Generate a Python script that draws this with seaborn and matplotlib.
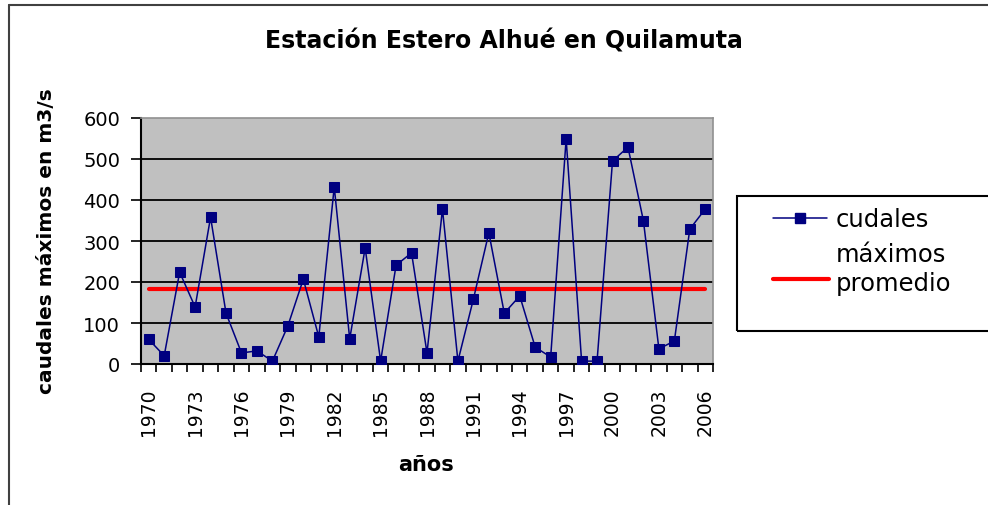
import numpy as np
import pandas as pd
import matplotlib.pyplot as plt
import seaborn as sns
from matplotlib.lines import Line2D
from matplotlib.patches import Rectangle

## Data
years = list(range(1970, 2007))
caudales = [60, 20, 224, 139, 358, 124, 27, 32, 7, 93,
            207, 66, 432, 61, 283, 7, 241, 271, 27, 378,
            7, 158, 320, 124, 166, 41, 17, 549, 7, 7,
            495, 529, 349, 37, 56, 329, 378]
promedio = [183] * len(years)
y_ticks = [0, 100, 200, 300, 400, 500, 600]

df = pd.DataFrame({'pos': range(len(years)), 'anio': years,
                   'caudales': caudales, 'promedio': promedio})

sns.set_style("ticks")
plt.rcParams['font.family'] = ['DejaVu Sans']
plt.rcParams['text.color'] = 'black'
plt.rcParams['xtick.color'] = 'black'
plt.rcParams['ytick.color'] = 'black'

W, H = 988, 506
fig = plt.figure(figsize=(W / 100, H / 100), dpi=100)
ax = fig.add_axes([141 / W, 1 - 365 / H, 572 / W, 246 / H])
ax.set_facecolor('#C0C0C0')

# gridlines
for v in y_ticks[1:-1]:
    ax.axhline(v, color='black', lw=1.3, zorder=1)

sns.lineplot(data=df, x='pos', y='promedio', ax=ax, color='#FF0000', lw=3, zorder=2)
sns.lineplot(data=df, x='pos', y='caudales', ax=ax, color='#000080', lw=1.1,
             marker='s', markersize=7, markeredgecolor='#000080', zorder=3)

ax.set_xlim(-0.5, len(years) - 0.5)
ax.set_ylim(0, 600)
ax.set_yticks(y_ticks)
ax.set_yticklabels([str(v) for v in y_ticks], fontsize=14)

lab_pos = list(range(0, len(years), 3))
ax.set_xticks(lab_pos)
ax.set_xticklabels([str(years[i]) for i in lab_pos], rotation=90, fontsize=13.5)
ax.set_xticks(np.arange(-0.5, len(years), 1), minor=True)
ax.tick_params(axis='x', which='major', length=0, pad=17)
ax.tick_params(axis='x', which='minor', length=6, width=1.2, color='black', direction='out')
ax.tick_params(axis='y', length=7, width=1.2, color='black', direction='out', pad=8)

ax.set_xlabel('')
ax.set_ylabel('')
for s in ['left', 'bottom']:
    ax.spines[s].set_color('black')
    ax.spines[s].set_linewidth(1.5)
for s in ['top', 'right']:
    ax.spines[s].set_color('#909090')
    ax.spines[s].set_linewidth(1.2)

# Titles
fig.text(504 / W, 1 - 42 / H, 'Estación Estero Alhué en Quilamuta',
         ha='center', va='center', fontsize=17, fontweight='bold')
fig.text(426 / W, 1 - 465 / H, 'años', ha='center', va='center',
         fontsize=15, fontweight='bold')
fig.text(47 / W, 1 - 241 / H, 'caudales máximos en m3/s', ha='center',
         va='center', rotation=90, fontsize=14.5, fontweight='bold')

# Legend box (drawn by hand to match the spreadsheet layout)
fig.patches.append(Rectangle((737 / W, 1 - 332 / H), 260 / W, 135 / H,
                             transform=fig.transFigure, fill=False,
                             edgecolor='black', lw=1.5))
fig.add_artist(Line2D([773 / W, 827 / W], [1 - 219 / H, 1 - 219 / H],
                      color='#000080', lw=1.1, transform=fig.transFigure))
fig.add_artist(Line2D([800 / W], [1 - 219 / H], color='#000080', marker='s',
                      markersize=7, transform=fig.transFigure))
fig.add_artist(Line2D([773 / W, 829 / W], [1 - 280 / H, 1 - 280 / H],
                      color='#FF0000', lw=3, transform=fig.transFigure))
for txt, yb in [('cudales', 227), ('máximos', 262), ('promedio', 291)]:
    fig.text(836 / W, 1 - yb / H, txt, ha='left', va='baseline', fontsize=17.5)

# outer chart border
fig.add_artist(Line2D([9 / W, 9 / W], [0, 1 - 6 / H], color='#404040',
                      lw=1.5, transform=fig.transFigure))
fig.add_artist(Line2D([9 / W, 1], [1 - 6 / H, 1 - 6 / H], color='#404040',
                      lw=1.5, transform=fig.transFigure))

fig.savefig('out.png', dpi=100)
